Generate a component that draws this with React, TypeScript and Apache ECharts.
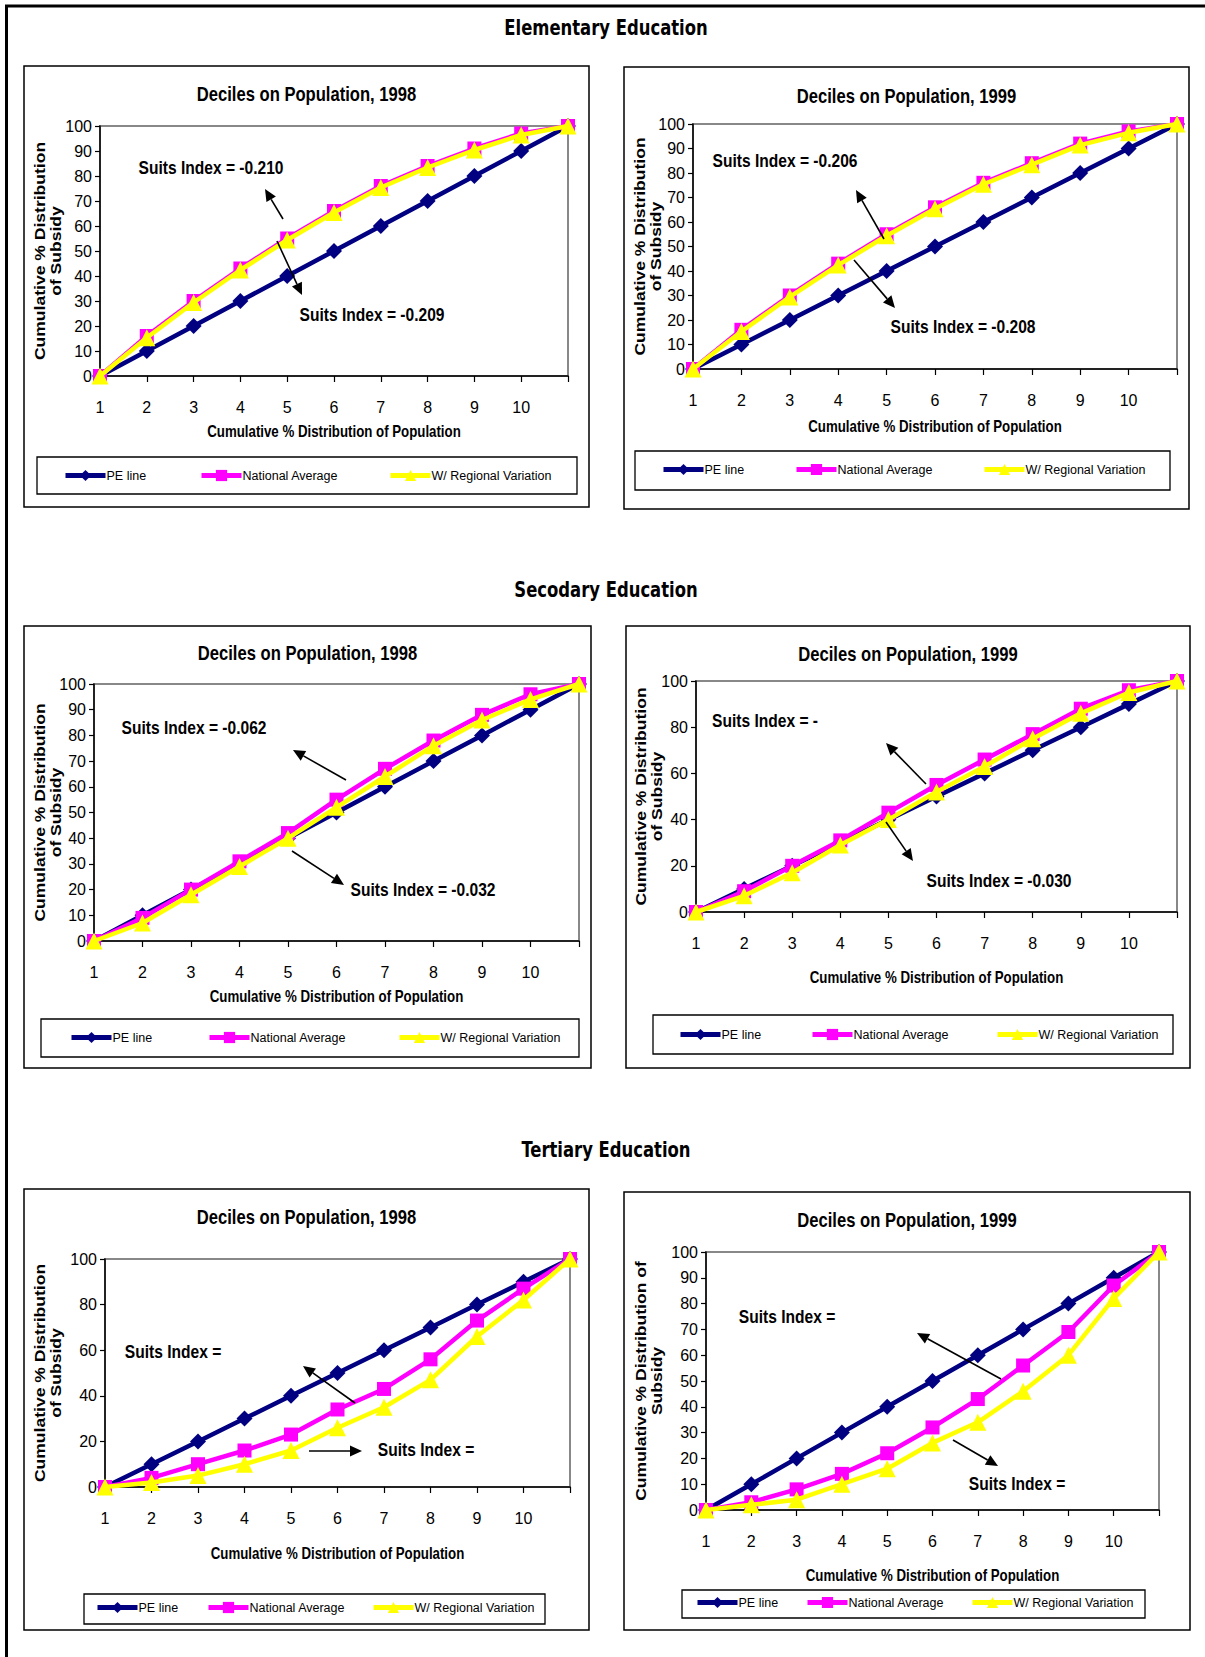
import React, { useEffect, useRef } from "react";
import * as echarts from "echarts";

// ---------- DATA ----------
const categories = ["1", "2", "3", "4", "5", "6", "7", "8", "9", "10", ""];
const seriesNames = ["PE line", "National Average", "W/ Regional Variation"];
const sectionTitles = ["Elementary Education", "Secodary Education", "Tertiary Education"];
const panelTitles = [
  "Deciles on Population, 1998",
  "Deciles on Population, 1999",
  "Deciles on Population, 1998",
  "Deciles on Population, 1999",
  "Deciles on Population, 1998",
  "Deciles on Population, 1999",
];
const xAxisName = "Cumulative % Distribution of Population";
const yAxisNames = [
  "Cumulative % Distribution\nof Subsidy",
  "Cumulative % Distribution\nof Subsidy",
  "Cumulative % Distribution\nof Subsidy",
  "Cumulative % Distribution\nof Subsidy",
  "Cumulative % Distribution\nof Subsidy",
  "Cumulative % Distribution of\nSubsidy",
];
const yTickStep = [10, 10, 10, 20, 20, 10];

const peLine = [0, 10, 20, 30, 40, 50, 60, 70, 80, 90, 100];
const elem1998National = [0, 16, 30, 43, 55, 66, 76, 84, 91, 97, 100];
const elem1998Regional = [0, 15.3, 29.4, 42.4, 54.4, 65.4, 75.4, 83.4, 90.4, 96.4, 100];
const elem1999National = [0, 16, 30, 43, 55, 66, 76, 84, 92, 97, 100];
const elem1999Regional = [0, 15.3, 29.4, 42.4, 54.4, 65.4, 75.4, 83.4, 91.4, 96.4, 100];
const sec1998National = [0, 9, 20, 31, 42, 55, 67, 78, 88, 96, 100];
const sec1998Regional = [0, 7, 18, 29, 40, 52, 64, 76, 86, 94, 100];
const sec1999National = [0, 9, 20, 31, 43, 55, 66, 77, 88, 96, 100];
const sec1999Regional = [0, 7, 17, 29, 40, 52, 63, 75, 86, 95, 100];
const ter1998National = [0, 4, 10, 16, 23, 34, 43, 56, 73, 87, 100];
const ter1998Regional = [0, 2, 5, 10, 16, 26, 35, 47, 66, 82, 100];
const ter1999National = [0, 3, 8, 14, 22, 32, 43, 56, 69, 87, 100];
const ter1999Regional = [0, 2, 4, 10, 16, 26, 34, 46, 60, 82, 100];

const nationalSeries = [elem1998National, elem1999National, sec1998National, sec1999National, ter1998National, ter1999National];
const regionalSeries = [elem1998Regional, elem1999Regional, sec1998Regional, sec1999Regional, ter1998Regional, ter1999Regional];

const suitsUpper = ["Suits Index = -0.210", "Suits Index = -0.206", "Suits Index = -0.062", "Suits Index = -", "Suits Index =", "Suits Index ="];
const suitsLower = ["Suits Index = -0.209", "Suits Index = -0.208", "Suits Index = -0.032", "Suits Index = -0.030", "Suits Index =", "Suits Index ="];

// ---------- LAYOUT (pixels) ----------
const SANS = "'Liberation Sans', Arial, sans-serif";
const DEJAVU_C = "'DejaVu Sans Condensed', 'DejaVu Sans', sans-serif";

const layout = [
  { box: [24, 66, 589, 507], grid: [100, 126, 568, 376], titleY: 94, legendBox: [37, 457, 577, 494], legendX: [63, 199, 388], legendY: 476, xNameY: 432, yNameX: 47,
    up: { t: [211, 167], a: [283, 219, 265, 189] }, low: { t: [372, 314], a: [277, 241, 302, 295] } },
  { box: [624, 67, 1189, 509], grid: [693, 124, 1177, 369], titleY: 96, legendBox: [635, 451, 1170, 490], legendX: [661, 794, 982], legendY: 470, xNameY: 427, yNameX: 647,
    up: { t: [785, 160], a: [884, 239, 856, 190] }, low: { t: [963, 326], a: [854, 260, 895, 308] } },
  { box: [24, 626, 591, 1068], grid: [94, 684, 579, 941], titleY: 653, legendBox: [41, 1019, 579, 1057], legendX: [69, 207, 397], legendY: 1038, xNameY: 997, yNameX: 47,
    up: { t: [194, 727], a: [346, 780, 293, 750] }, low: { t: [423, 889], a: [292, 851, 344, 885] } },
  { box: [626, 626, 1190, 1068], grid: [696, 681, 1177, 912], titleY: 654, legendBox: [653, 1015, 1173, 1054], legendX: [678, 810, 995], legendY: 1035, xNameY: 978, yNameX: 648,
    up: { t: [765, 720], a: [926, 784, 886, 743] }, low: { t: [999, 880], a: [886, 822, 913, 861] } },
  { box: [24, 1189, 589, 1630], grid: [105, 1259, 570, 1487], titleY: 1217, legendBox: [84, 1594, 545, 1624], legendX: [95, 206, 371], legendY: 1608, xNameY: 1554, yNameX: 47,
    up: { t: [173, 1351], a: [355, 1403, 303, 1366] }, low: { t: [426, 1449], a: [309, 1451, 362, 1451] } },
  { box: [624, 1192, 1190, 1630], grid: [706, 1252, 1159, 1510], titleY: 1220, legendBox: [682, 1590, 1145, 1618], legendX: [695, 805, 970], legendY: 1603, xNameY: 1576, yNameX: 648,
    up: { t: [787, 1316], a: [1001, 1379, 917, 1333] }, low: { t: [1017, 1483], a: [953, 1440, 998, 1466] } },
];
const sectionTitleY = [28, 590, 1150];

const colors = ["#000080", "#FF00FF", "#FFFF00"];
const symbols = ["diamond", "rect", "triangle"];
const symbolSizes = [16, 14, 17];

function arrow(x1: number, y1: number, x2: number, y2: number) {
  const dx = x2 - x1, dy = y2 - y1;
  const len = Math.sqrt(dx * dx + dy * dy);
  const ux = dx / len, uy = dy / len;
  const hl = 12, hw = 5.5;
  const bx = x2 - ux * hl, by = y2 - uy * hl;
  return [
    { type: "line", shape: { x1, y1, x2: bx, y2: by }, style: { stroke: "#000", lineWidth: 1.6 }, z: 50 },
    { type: "polygon", shape: { points: [[x2, y2], [bx - uy * hw, by + ux * hw], [bx + uy * hw, by - ux * hw]] }, style: { fill: "#000" }, z: 50 },
  ];
}

function txt(text: string, x: number, y: number, size: number, bold: boolean, family: string, scaleX = 1, rotation = 0, lineHeight?: number) {
  return {
    type: "text",
    x, y, scaleX, scaleY: 1, rotation,
    z: 60,
    style: {
      text, x: 0, y: 0,
      textAlign: "center", textVerticalAlign: "middle", align: "center", verticalAlign: "middle",
      fontSize: size, fontWeight: bold ? "bold" : "normal", fontFamily: family, fill: "#000",
      lineHeight: lineHeight || size * 1.2,
    },
  };
}

function buildOption() {
  const grids: any[] = [], xAxes: any[] = [], yAxes: any[] = [], series: any[] = [], legends: any[] = [], graphics: any[] = [];

  // outer frame
  graphics.push({ type: "line", shape: { x1: 5, y1: 6, x2: 1205, y2: 6 }, style: { stroke: "#000", lineWidth: 3 } });
  graphics.push({ type: "line", shape: { x1: 6.5, y1: 5, x2: 6.5, y2: 1657 }, style: { stroke: "#000", lineWidth: 3 } });
  sectionTitles.forEach((t, i) => graphics.push(txt(t, 606, sectionTitleY[i], 21, true, DEJAVU_C, 0.87)));

  layout.forEach((L, i) => {
    const [gl, gt, gr, gb] = L.grid;
    grids.push({ left: gl, top: gt, width: gr - gl, height: gb - gt, show: true, borderColor: "#888", borderWidth: 2, backgroundColor: "transparent" });
    xAxes.push({
      type: "category", gridIndex: i, data: categories, boundaryGap: false,
      axisLine: { lineStyle: { color: "#000", width: 1.5 } },
      axisTick: { show: true, length: 6, lineStyle: { color: "#000", width: 1.2 } },
      axisLabel: { color: "#000", fontSize: 16, fontFamily: SANS, margin: 23, interval: 0 },
      splitLine: { show: false },
    });
    yAxes.push({
      type: "value", gridIndex: i, min: 0, max: 100, interval: yTickStep[i],
      axisLine: { show: true, lineStyle: { color: "#000", width: 1.5 } },
      axisTick: { show: true, length: 5, lineStyle: { color: "#000", width: 1.2 } },
      axisLabel: { color: "#000", fontSize: 16, fontFamily: SANS, margin: 8 },
      splitLine: { show: false },
    });
    const datas = [peLine, nationalSeries[i], regionalSeries[i]];
    seriesNames.forEach((name, k) => {
      series.push({
        type: "line", name, xAxisIndex: i, yAxisIndex: i, data: datas[k],
        symbol: symbols[k], symbolSize: symbolSizes[k], showSymbol: true,
        lineStyle: { color: colors[k], width: 4.5 }, itemStyle: { color: colors[k] },
        z: 10 + k,
      });
      legends.push({
        data: [name], left: L.legendX[k], top: L.legendY - 7, itemWidth: 40, itemHeight: 14, itemGap: 0, padding: 0,
        selectedMode: false,
        lineStyle: { width: 5 },
        textStyle: { color: "#000", fontSize: 12.5, fontFamily: SANS, padding: [0, 0, 0, -4] },
      });
    });
    // panel box
    const [bx1, by1, bx2, by2] = L.box;
    graphics.push({ type: "rect", shape: { x: bx1, y: by1, width: bx2 - bx1, height: by2 - by1 }, style: { fill: "none", stroke: "#000", lineWidth: 1.5 }, z: 1 });
    const [lx1, ly1, lx2, ly2] = L.legendBox;
    graphics.push({ type: "rect", shape: { x: lx1, y: ly1, width: lx2 - lx1, height: ly2 - ly1 }, style: { fill: "none", stroke: "#000", lineWidth: 1.3 }, z: 1 });
    graphics.push(txt(panelTitles[i], (bx1 + bx2) / 2, L.titleY, 20, true, SANS, 0.83));
    graphics.push(txt(xAxisName, (gl + gr) / 2, L.xNameY, 16, true, SANS, 0.83));
    graphics.push(txt(yAxisNames[i], L.yNameX, (gt + gb) / 2, 15, true, SANS, 1.17, Math.PI / 2, 16));
    graphics.push(txt(suitsUpper[i], L.up.t[0], L.up.t[1], 19, true, SANS, 0.82));
    graphics.push(txt(suitsLower[i], L.low.t[0], L.low.t[1], 19, true, SANS, 0.82));
    graphics.push(...arrow(L.up.a[0], L.up.a[1], L.up.a[2], L.up.a[3]));
    graphics.push(...arrow(L.low.a[0], L.low.a[1], L.low.a[2], L.low.a[3]));
  });

  return {
    animation: false,
    backgroundColor: "#fff",
    grid: grids, xAxis: xAxes, yAxis: yAxes, series, legend: legends,
    graphic: { elements: graphics },
  };
}

export default function App() {
  const ref = useRef<HTMLDivElement>(null);
  useEffect(() => {
    document.body.style.margin = "0";
    const chart = echarts.init(ref.current!, undefined, { renderer: "svg" });
    chart.setOption(buildOption() as any);
    return () => chart.dispose();
  }, []);
  return <div ref={ref} style={{ position: "absolute", left: 0, top: 0, width: 1205, height: 1657 }} />;
}
